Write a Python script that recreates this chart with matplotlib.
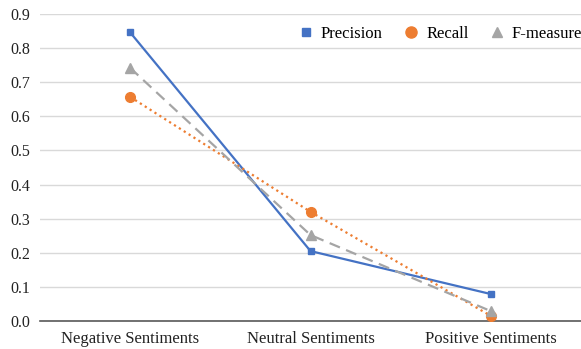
import matplotlib.pyplot as plt
import numpy as np

plt.rcParams['font.family'] = ['Liberation Serif', 'DejaVu Serif']

categories = ['Negative Sentiments', 'Neutral Sentiments', 'Positive Sentiments']
precision = [0.846, 0.205, 0.079]
recall = [0.657, 0.320, 0.015]
f_measure = [0.742, 0.252, 0.029]
yticks = np.arange(0, 1.0, 0.1)

fig = plt.figure(figsize=(5.81, 3.49), dpi=100)
ax = fig.add_axes([40/581, 1-321/349, 1-40/581, 307/349])

x = np.arange(len(categories))
ax.plot(x, precision, color='#4472C4', lw=1.6, marker='s', ms=5, label='Precision', zorder=3)
ax.plot(x, recall, color='#ED7D31', lw=1.6, ls=(0, (1, 1.6)), marker='o', ms=7, label='Recall', zorder=3)
ax.plot(x, f_measure, color='#A5A5A5', lw=1.6, ls=(0, (5, 3)), marker='^', ms=7, label='F-measure', zorder=3)

ax.set_xlim(-0.5, 2.5)
ax.set_ylim(0, 0.9)
ax.set_yticks(yticks)
ax.set_yticklabels(['{:.1f}'.format(v) for v in yticks], fontsize=11.5, color='#222222')
ax.set_xticks(x)
ax.set_xticklabels(categories, fontsize=12, color='#222222')
ax.tick_params(axis='y', length=0, pad=7)
ax.tick_params(axis='x', length=0, pad=7)
ax.grid(axis='y', color='#D9D9D9', lw=1)
ax.set_axisbelow(True)
for s in ['top', 'right', 'left']:
    ax.spines[s].set_visible(False)
ax.spines['bottom'].set_color('#595959')
ax.spines['bottom'].set_linewidth(1.2)

h, l = ax.get_legend_handles_labels()
ax.legend([plt.Line2D([], [], color=c, marker=m, ls='none', ms=s) for c, m, s in
           [('#4472C4', 's', 6), ('#ED7D31', 'o', 8), ('#A5A5A5', '^', 7)]], l,
          loc='upper right', bbox_to_anchor=(1.03, 1.01), ncol=3, frameon=False, fontsize=12,
          handletextpad=0.3, columnspacing=1.1, handlelength=1.2)

fig.savefig('out.png', dpi=100)
